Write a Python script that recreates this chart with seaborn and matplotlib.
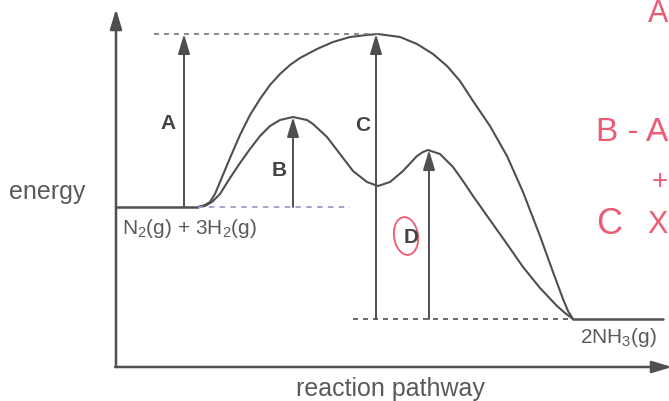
import matplotlib
matplotlib.use("Agg")
import matplotlib.pyplot as plt
import seaborn as sns
import pandas as pd
from matplotlib.patches import Ellipse

# ---- data (x = position along reaction pathway, energy = height above the pathway axis) ----
uncat_x = [198, 205, 210, 215, 220, 230, 240, 250, 260, 270, 280, 290, 300, 317, 333, 350,
           367, 378, 400, 417, 433, 447, 460, 473, 490, 507, 523, 540, 553, 563, 568, 573]
uncat_E = [160, 162, 165, 173, 185, 209, 232, 252, 268, 282, 293, 302, 309, 318, 325, 330,
           332, 333, 330, 323, 313, 301, 286, 266, 241, 211, 175, 131, 95, 68, 56, 48]

cat_x = [198, 205, 212, 220, 230, 240, 250, 260, 270, 280, 293, 307, 313, 327, 340, 353,
         367, 378, 390, 403, 417, 423, 428, 440, 453, 463, 473, 490, 507, 523, 540, 557,
         565, 573]
cat_E = [160, 161, 165, 173, 189, 204, 218, 231, 241, 247, 250, 247, 243, 230, 213, 196,
         185, 181, 185, 196, 211, 215, 217, 213, 200, 186, 171, 147, 123, 100, 79, 61,
         54, 48]

reactant_E = 160
product_E = 48
top_E = 333
peak1_E = 250
peak2_E = 217

reactant_label = "N$_2$(g) + 3H$_2$(g)"
product_label = "2NH$_3$(g)"
x_title = "reaction pathway"
y_title = "energy"

arrow_labels = ["A", "B", "C", "D"]
arrow_x = [184, 293, 376, 429]
arrow_base = [reactant_E, reactant_E, product_E, product_E]
arrow_top = [top_E, peak1_E, top_E, peak2_E]

# ---- style ----
sns.set_style("white")
plt.rcParams["font.family"] = ["Liberation Sans", "DejaVu Sans"]
plt.rcParams["mathtext.fontset"] = "custom"
plt.rcParams["mathtext.rm"] = "Liberation Sans"
plt.rcParams["mathtext.default"] = "regular"

LINE = "#4f4f4f"
TEXT = "#5a5a5a"
RED = "#ec5a73"

fig = plt.figure(figsize=(6.69, 4.02), dpi=100)
ax = fig.add_axes([0, 0, 1, 1])
ax.set_xlim(0, 669)
ax.set_ylim(-34, 368)
ax.axis("off")

df_u = pd.DataFrame({"x": uncat_x, "E": uncat_E})
df_c = pd.DataFrame({"x": cat_x, "E": cat_E})
for df in (df_u, df_c):
    sns.lineplot(data=df, x="x", y="E", ax=ax, color=LINE, lw=1.5, sort=False,
                 estimator=None, solid_joinstyle="round", solid_capstyle="round")

# axes with arrows
arrow_kw = dict(arrowstyle="-|>,head_length=1.0,head_width=0.3", color=LINE,
                lw=1.8, shrinkA=0, shrinkB=0, mutation_scale=12)
ax.annotate("", xy=(116, 358), xytext=(116, 0), arrowprops=arrow_kw, annotation_clip=False)
ax.annotate("", xy=(672, 0), xytext=(115, 0), arrowprops=arrow_kw, annotation_clip=False)

# energy levels
ax.plot([116, 198], [reactant_E, reactant_E], color=LINE, lw=1.8)
ax.plot([198, 350], [reactant_E, reactant_E], color="#9a9ad2", lw=1.3, dashes=(3, 3))
ax.plot([573, 663], [product_E, product_E], color=LINE, lw=1.8)
ax.plot([353, 573], [product_E, product_E], color=LINE, lw=1.2, dashes=(3, 3))
ax.plot([154, 384], [top_E, top_E], color="#777777", lw=1.2, dashes=(3, 3))

# energy arrows
for lab, x, b, t in zip(arrow_labels, arrow_x, arrow_base, arrow_top):
    ax.annotate("", xy=(x, t), xytext=(x, b),
                arrowprops=dict(arrowstyle="-|>,head_length=1.0,head_width=0.3", color=LINE,
                                lw=1.4, shrinkA=0, shrinkB=0, mutation_scale=12))

label_pos = {"A": (168, 244), "B": (279, 197), "C": (363, 242), "D": (411, 130)}
for lab in arrow_labels:
    px, py = label_pos[lab]
    ax.text(px, py, lab, ha="center", va="center", fontsize=15, fontweight="bold", color="#444444")

ax.add_patch(Ellipse((406, 131), 24, 38, angle=8, fill=False, ec=RED, lw=1.3))

# text labels
ax.text(47, 176, y_title, ha="center", va="center", fontsize=18, color=TEXT)
ax.text(390, -21, x_title, ha="center", va="center", fontsize=18, color=TEXT)
ax.text(122, 139, reactant_label, ha="left", va="center", fontsize=15, color=TEXT)
ax.text(657, 30, product_label, ha="right", va="center", fontsize=15, color=TEXT)

# red handwriting notes
ax.text(668, 354, "A", ha="right", va="center", fontsize=22, color=RED, fontweight="light")
ax.text(668, 235, "B - A", ha="right", va="center", fontsize=24, color=RED, fontweight="light")
ax.text(668, 186, "+", ha="right", va="center", fontsize=20, color=RED, fontweight="light")
ax.text(596, 143, "C", ha="left", va="center", fontsize=26, color=RED, fontweight="light")
ax.text(668, 143, "X", ha="right", va="center", fontsize=22, color=RED, fontweight="light")

fig.savefig("out.png", dpi=100)
